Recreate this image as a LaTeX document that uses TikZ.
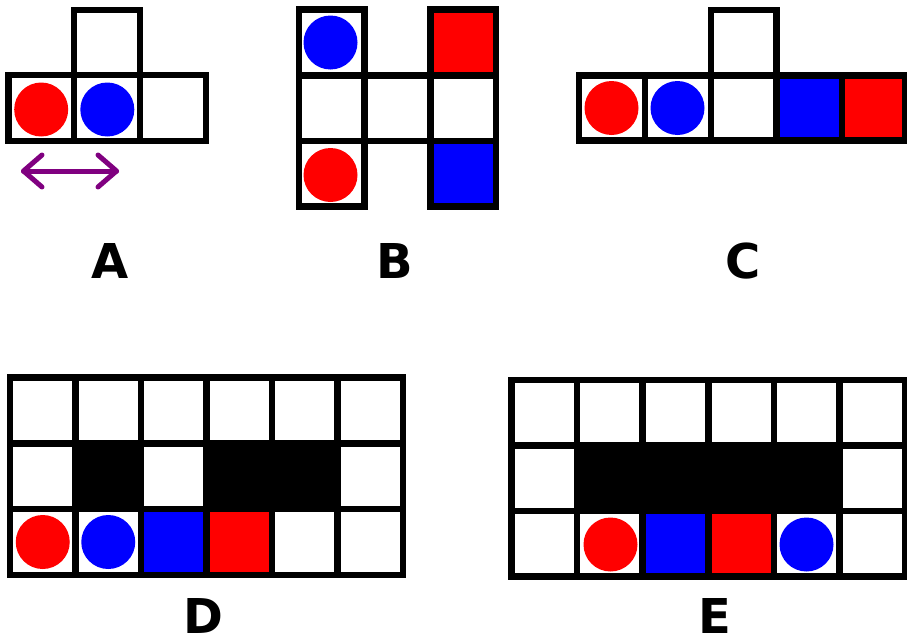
\documentclass[tikz,border=0pt]{standalone}
\usepackage{fontspec}
\newfontfamily\labelfont{DejaVu Sans}
\definecolor{arrowpurple}{RGB}{128,0,128}
\definecolor{chipred}{RGB}{255,0,0}
\definecolor{chipblue}{RGB}{0,0,255}
\newcommand\cellrect[5]{\draw[cellbox,fill=#5] ({#1},{#2}) rectangle ({#3},{#4});}
\newcommand\chip[3]{\fill[#3] (#1,#2) circle[radius=27];}
\begin{document}
\begin{tikzpicture}[x=1pt,y=-1pt,
  cellbox/.style={draw=black,line width=6.5pt},
  lab/.style={font=\labelfont\bfseries\fontsize{48}{48}\selectfont,anchor=base,inner sep=0pt},
  arrowline/.style={draw=arrowpurple,line width=5pt,line cap=round,line join=round}]
\useasboundingbox[fill=white] (0,0) rectangle (907,637);

% ---------- A ----------
\cellrect{8.5}{75}{74}{141}{white}
\cellrect{74}{75}{140}{141}{white}
\cellrect{140}{75}{206}{141}{white}
\cellrect{74}{10}{140}{75}{white}
\chip{41.2}{109.5}{chipred}
\chip{107.3}{109.5}{chipblue}
\coordinate (al) at (23.5,171);
\coordinate (ar) at (116.5,171);
\draw[arrowline] (al) -- (ar);
\draw[arrowline] (42,155) -- (al) -- (42,187);
\draw[arrowline] (98,155) -- (ar) -- (98,187);
\node[lab] (labA) at (110,278) {A};

% ---------- B ----------
\cellrect{299}{9.5}{364.5}{75.5}{white}
\cellrect{430.5}{9.5}{496}{75.5}{chipred}
\cellrect{299}{75.5}{364.5}{141}{white}
\cellrect{364.5}{75.5}{430.5}{141}{white}
\cellrect{430.5}{75.5}{496}{141}{white}
\cellrect{299}{141}{364.5}{206.5}{white}
\cellrect{430.5}{141}{496}{206.5}{chipblue}
\chip{330.5}{42.5}{chipblue}
\chip{330.5}{175}{chipred}
\node[lab] (labB) at (395,278) {B};

% ---------- C ----------
\cellrect{711}{10}{776.5}{75.5}{white}
\cellrect{579}{75.5}{645}{140.5}{white}
\cellrect{645}{75.5}{711}{140.5}{white}
\cellrect{711}{75.5}{776.5}{140.5}{white}
\cellrect{776.5}{75.5}{842}{140.5}{chipblue}
\cellrect{842}{75.5}{905.5}{140.5}{chipred}
\chip{611.5}{108}{chipred}
\chip{677.5}{108}{chipblue}
\node[lab] (labC) at (743,278) {C};

% ---------- D ----------
\foreach \i in {0,...,5}{
  \foreach \j in {0,1,2}{
    \cellrect{10+65.5*\i}{377.5+65.8*\j}{10+65.5*(\i+1)}{377.5+65.8*(\j+1)}{white}
  }
}
\cellrect{75.5}{443.3}{141}{509.1}{black}
\fill[black] (206.5,443.3) rectangle (337.5,509.1);
\draw[cellbox] (206.5,443.3) rectangle (337.5,509.1);
\cellrect{141}{509.1}{206.5}{574.9}{chipblue}
\cellrect{206.5}{509.1}{272}{574.9}{chipred}
\chip{42.75}{542}{chipred}
\chip{108.25}{542}{chipblue}
\node[lab] (labD) at (203,633) {D};

% ---------- E ----------
\foreach \i in {0,...,5}{
  \foreach \j in {0,1,2}{
    \cellrect{511.5+65.6*\i}{380+65.5*\j}{511.5+65.6*(\i+1)}{380+65.5*(\j+1)}{white}
  }
}
\fill[black] (577.1,445.5) rectangle (839.5,511);
\draw[cellbox] (577.1,445.5) rectangle (839.5,511);
\cellrect{642.7}{511}{708.3}{576.5}{chipblue}
\cellrect{708.3}{511}{773.9}{576.5}{chipred}
\chip{610.5}{544.5}{chipred}
\chip{806.5}{544.5}{chipblue}
\node[lab] (labE) at (715,633) {E};
\end{tikzpicture}
\end{document}
